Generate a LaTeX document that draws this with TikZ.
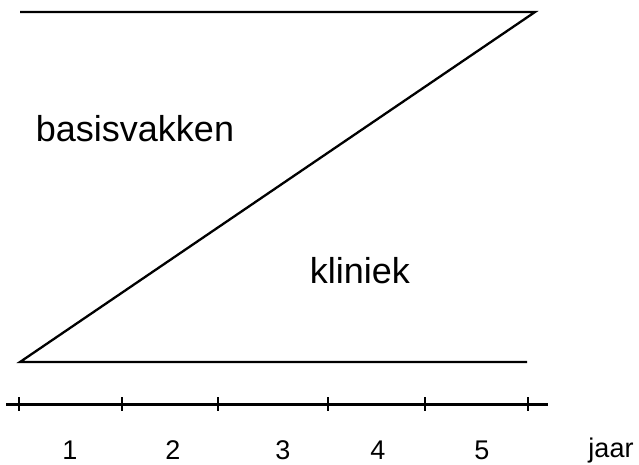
\documentclass[tikz,border=0pt]{standalone}
\usepackage{fontspec}
\setmainfont{Liberation Sans}
\tikzset{
  lbl/.style={anchor=base, inner sep=0pt, font=\fontsize{36}{42}\selectfont},
  yr/.style={anchor=base, inner sep=0pt, font=\fontsize{27}{32}\selectfont},
  vlak/.style={line width=2.3pt},
  as/.style={line width=3pt},
}
\begin{document}
\begin{tikzpicture}[x=1pt,y=-1pt]
                \useasboundingbox (0,0) rectangle (639,465);
                % Define node positions
                \coordinate (tl) at (20,12);
                \coordinate (tr) at (535,12);
                \coordinate (bl) at (20,362);
                \coordinate (br) at (527,362);
                \node[lbl] (basis) at (135,142) {basisvakken};
                \node[lbl] (kliniek) at (360,283) {kliniek};

                % Draw the Z
                \draw[vlak] (tl) -- (tr) -- (bl) -- (br);

                % Time axis
                \coordinate (a0) at (6,404);
                \coordinate (a1) at (548,404);
                \draw[as] (a0) -- (a1);
                \foreach \x [count=\i] in {19,122,218,328,425,528}
                  \draw[vlak] (\x,397) coordinate (t\i) -- (\x,411);

                % Year labels
                \node[yr] (j1) at (70,459) {1};
                \node[yr] (j2) at (173,459) {2};
                \node[yr] (j3) at (283,459) {3};
                \node[yr] (j4) at (378,459) {4};
                \node[yr] (j5) at (482,459) {5};
                \node[yr] (jaar) at (611,457) {jaar};
            \end{tikzpicture}
\end{document}
